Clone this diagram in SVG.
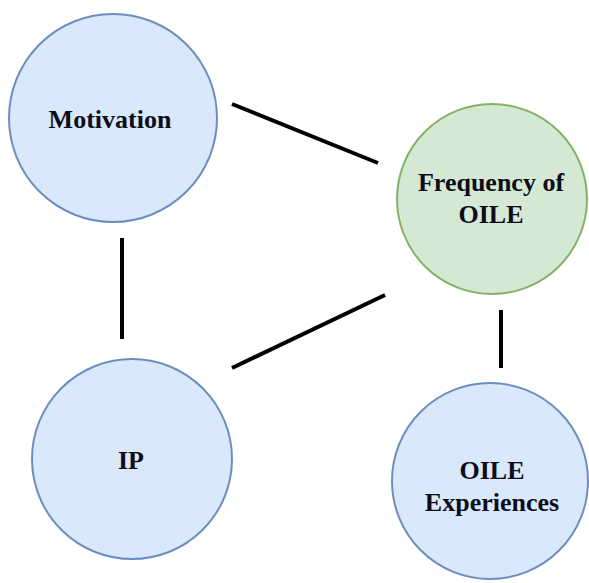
<svg xmlns="http://www.w3.org/2000/svg" width="589" height="583" viewBox="0 0 589 583">
  <style>
    .blue { fill: #dae8fc; stroke: #6c8ebf; stroke-width: 2; }
    .green { fill: #d5e8d4; stroke: #82b366; stroke-width: 2; }
    .label { font-family: 'Liberation Serif', 'DejaVu Serif', 'Times New Roman', Times, serif; font-weight: 700; font-size: 26px; fill: #0d0d1a; text-anchor: middle; }
    .link { stroke: #000; stroke-width: 4; stroke-linecap: butt; fill: none; }
  </style>
  <rect width="589" height="583" fill="#ffffff"/>

  <!-- connectors between the four nodes -->
  <g id="connectors">
    <line class="link" x1="232" y1="104" x2="378" y2="163"/>
    <line class="link" x1="122" y1="238" x2="122" y2="339"/>
    <line class="link" x1="232" y1="368" x2="385" y2="295"/>
    <line class="link" x1="501" y1="310" x2="501" y2="368"/>
  </g>

  <g id="motivation">
    <circle class="blue" cx="113" cy="118" r="104"/>
    <text class="label" x="110" y="128" font-family="Liberation Serif, DejaVu Serif, serif">Motivation</text>
  </g>

  <g id="frequency-of-oile">
    <circle class="green" cx="492" cy="199" r="95"/>
    <text class="label" x="491" y="191" font-family="Liberation Serif, DejaVu Serif, serif">Frequency of</text>
    <text class="label" x="491" y="223" font-family="Liberation Serif, DejaVu Serif, serif">OILE</text>
  </g>

  <g id="ip">
    <circle class="blue" cx="132" cy="459" r="100"/>
    <text class="label" x="131" y="469" font-family="Liberation Serif, DejaVu Serif, serif">IP</text>
  </g>

  <g id="oile-experiences">
    <circle class="blue" cx="490" cy="481" r="98"/>
    <text class="label" x="492" y="479" font-family="Liberation Serif, DejaVu Serif, serif">OILE</text>
    <text class="label" x="492" y="511" font-family="Liberation Serif, DejaVu Serif, serif">Experiences</text>
  </g>
</svg>
